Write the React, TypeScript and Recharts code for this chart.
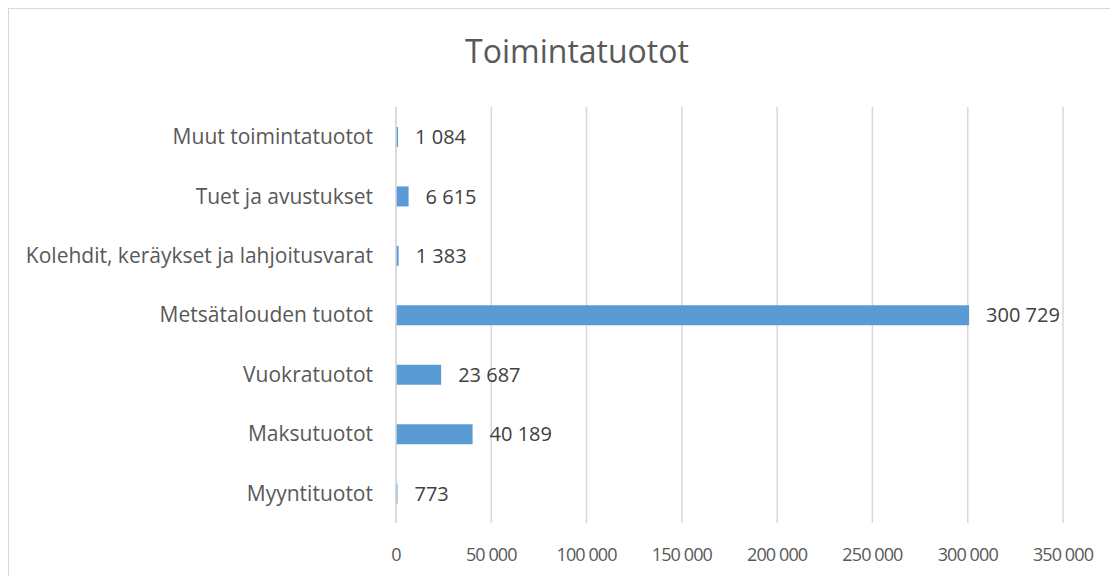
import { BarChart, Bar, XAxis, YAxis, CartesianGrid, LabelList } from "recharts";

const categories = [
  "Muut toimintatuotot",
  "Tuet ja avustukset",
  "Kolehdit, keräykset ja lahjoitusvarat",
  "Metsätalouden tuotot",
  "Vuokratuotot",
  "Maksutuotot",
  "Myyntituotot",
];
const values = [1084, 6615, 1383, 300729, 23687, 40189, 773];
const xTicks = [0, 50000, 100000, 150000, 200000, 250000, 300000, 350000];

const data = categories.map((name, i) => ({ name, value: values[i] }));

const fmt = (v: number) => String(v).replace(/\B(?=(\d{3})+(?!\d))/g, " ");

const font = "'Open Sans', 'Noto Sans', sans-serif";

export default function App() {
  return (
    <div
      style={{
        position: "relative",
        width: 1108,
        height: 570,
        border: "1px solid #d9d9d9",
        background: "#fff",
        fontFamily: font,
      }}
    >
      <div
        style={{
          position: "absolute",
          top: 20,
          left: 14,
          width: "100%",
          textAlign: "center",
          fontSize: 32,
          color: "#595959",
        }}
      >
        Toimintatuotot
      </div>
      <BarChart
        width={1108}
        height={570}
        layout="vertical"
        data={data}
        barSize={20}
        margin={{ top: 98, right: 54, bottom: 26, left: 0 }}
      >
        <CartesianGrid horizontal={false} stroke="#d9d9d9" strokeWidth={1.5} />
        <XAxis
          type="number"
          domain={[0, 350000]}
          ticks={xTicks}
          tickFormatter={fmt}
          axisLine={false}
          tickLine={false}
          tickMargin={19}
          interval={0}
          tick={{ fontSize: 18, fill: "#595959", fontFamily: font, letterSpacing: -0.9 }}
        />
        <YAxis
          type="category"
          dataKey="name"
          width={387}
          axisLine={{ stroke: "#d9d9d9", strokeWidth: 1.5 }}
          tickLine={false}
          tickSize={0}
          tickMargin={23}
          interval={0}
          tick={{ fontSize: 21, fill: "#595959", fontFamily: font }}
        />
        <Bar dataKey="value" fill="#5b9bd5" isAnimationActive={false}>
          <LabelList
            dataKey="value"
            position="right"
            offset={17}
            formatter={(v: any) => fmt(Number(v))}
            style={{ fontSize: 20, fill: "#404040", fontFamily: font }}
          />
        </Bar>
      </BarChart>
    </div>
  );
}
